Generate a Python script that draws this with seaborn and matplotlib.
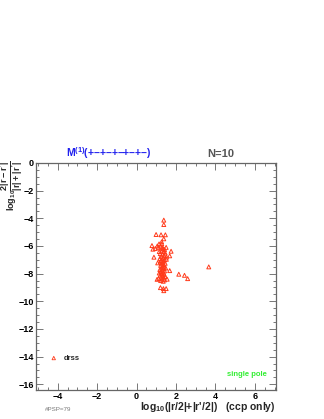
import matplotlib
matplotlib.use("Agg")
import matplotlib.pyplot as plt
from matplotlib.ticker import MultipleLocator
import seaborn as sns
import pandas as pd

# points (log10 scale on both axes)
x_vals = [1.38, 1.38, 0.99, 1.24, 1.46, 1.38, 0.78, 1.14, 1.28, 0.83,
          0.95, 1.75, 0.88, 1.68, 1.07, 1.51, 3.66, 1.68, 2.14, 2.43,
          2.59, 1.04, 1.21, 1.36, 1.50, 1.38,
          1.22, 1.30, 1.35, 1.42, 1.28, 1.38, 1.45, 1.20, 1.32, 1.40,
          1.25, 1.35, 1.18, 1.30, 1.42, 1.25, 1.36, 1.20, 1.32, 1.45,
          1.28, 1.38, 1.22, 1.33, 1.40, 1.26, 1.35, 1.18, 1.30, 1.42,
          1.24, 1.36, 1.15, 1.28, 1.40, 1.20, 1.33, 1.45, 1.25, 1.38,
          1.12, 1.30, 1.42, 1.22, 1.35, 1.55, 1.10, 1.05, 1.50, 1.48,
          1.15, 1.52, 1.27]
y_vals = [-4.13, -4.45, -5.17, -5.19, -5.19, -5.48, -5.97, -5.85, -5.85, -6.23,
          -6.18, -6.38, -6.81, -6.71, -7.22, -6.96, -7.51, -7.78, -8.04, -8.12,
          -8.36, -8.41, -9.01, -9.08, -9.08, -9.23,
          -6.00, -6.10, -6.20, -6.25, -6.30, -6.40, -6.50, -6.55, -6.60, -6.70,
          -6.75, -6.85, -6.90, -6.95, -7.00, -7.05, -7.10, -7.15, -7.20, -7.25,
          -7.30, -7.35, -7.40, -7.50, -7.55, -7.60, -7.65, -7.70, -7.75, -7.80,
          -7.85, -7.90, -7.95, -8.00, -8.05, -8.10, -8.15, -8.20, -8.25, -8.30,
          -8.35, -8.40, -8.45, -8.50, -8.55, -8.40, -6.10, -6.00, -6.10, -7.60,
          -6.40, -6.80, -5.70]

df = pd.DataFrame({"x": x_vals, "y": y_vals})

sns.set_theme(style="white")
plt.rcParams["font.family"] = ["Liberation Sans", "DejaVu Sans"]
plt.rcParams["font.weight"] = "bold"
plt.rcParams["mathtext.fontset"] = "custom"
plt.rcParams["mathtext.rm"] = "Liberation Sans:bold"
plt.rcParams["mathtext.bf"] = "Liberation Sans:bold"
plt.rcParams["mathtext.it"] = "Liberation Sans:bold"
plt.rcParams["axes.unicode_minus"] = True

W, H = 324, 419
fig = plt.figure(figsize=(W / 100, H / 100), dpi=100)
ax = fig.add_axes([36 / W, 29 / H, 240 / W, 227 / H])

red = "#ff3a1a"
sns.scatterplot(data=df, x="x", y="y", ax=ax, marker="^", s=8,
                facecolors="none", edgecolor=red, linewidth=0.7, legend=False)

ax.set_xlim(-5.1, 7.07)
ax.set_ylim(-16.41, 0)
ax.set_xlabel("")
ax.set_ylabel("")

ax.xaxis.set_major_locator(MultipleLocator(2))
ax.xaxis.set_minor_locator(MultipleLocator(0.5))
ax.yaxis.set_major_locator(MultipleLocator(2))
ax.yaxis.set_minor_locator(MultipleLocator(0.5))
ax.tick_params(which="both", direction="in", top=True, right=True,
               bottom=True, left=True, color="#777777", width=0.7,
               labelsize=6.5, labelcolor="black", pad=1.5)
ax.tick_params(which="major", length=5)
ax.tick_params(which="minor", length=2.5)
for lab in ax.get_xticklabels() + ax.get_yticklabels():
    lab.set_fontweight("bold")
for sp in ax.spines.values():
    sp.set_color("#666666")
    sp.set_linewidth(0.9)

def fx(px):
    return px / W

def fy(py):
    return 1 - py / H

# title pieces
fig.text(fx(66), fy(153), "M$^{(1)}$(+–+–+–+–+–)", color="#2020ee",
         fontsize=7.5, fontweight="bold", ha="left", va="center")
fig.text(fx(207), fy(154), "N=10", color="#555555", fontsize=8,
         fontweight="bold", ha="left", va="center")

# axis titles
fig.text(fx(12), fy(160), r"log$_{10}\dfrac{2|r-r'|}{|r|+|r'|}$",
         rotation=90, fontsize=6.5, ha="center", va="top")
fig.text(fx(276), fy(407), "log$_{10}$(|r/2|+|r'/2|)   (ccp only)",
         fontsize=7.5, fontweight="bold", ha="right", va="center")

# legend entry
ax.scatter([-4.2], [-14.1], marker="^", s=6, facecolors="none",
           edgecolors=red, linewidths=0.6)
ax.text(-3.7, -14.1, "drss", fontsize=5.5, fontweight="bold", va="center")

fig.text(fx(227), fy(374), "single pole", color="#33ee33", fontsize=5.5,
         fontweight="bold", ha="left", va="center")
fig.text(fx(45), fy(409), "#PSP=79", color="#777777", fontsize=4.5,
         ha="left", va="center", fontweight="normal")

fig.savefig("out.png", dpi=100)
